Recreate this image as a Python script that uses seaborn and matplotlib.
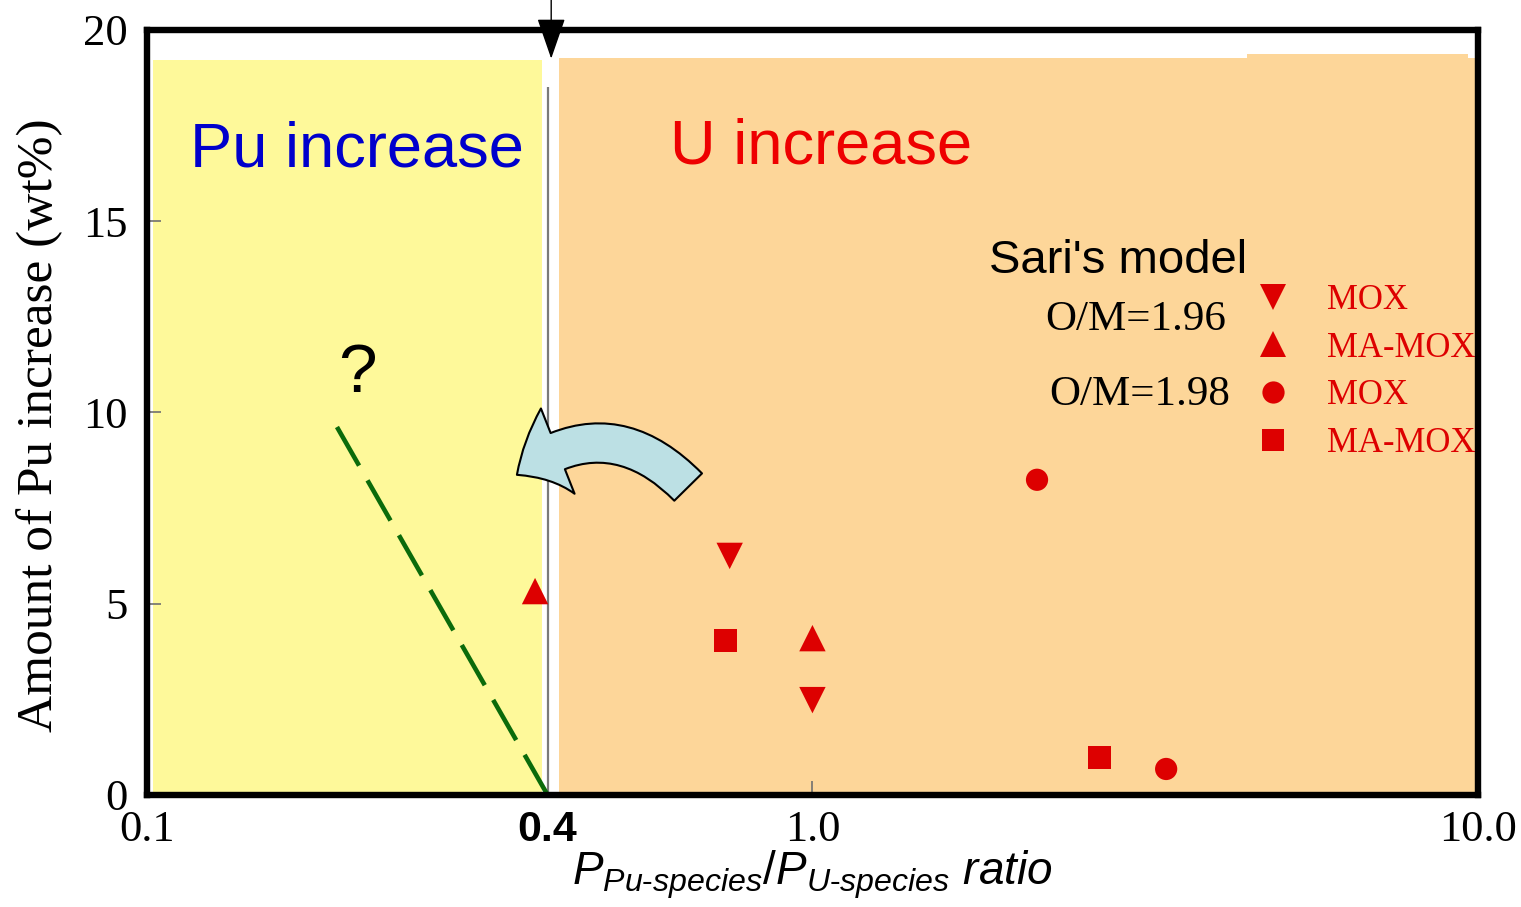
import matplotlib
matplotlib.use("Agg")
import matplotlib.pyplot as plt
import numpy as np
import pandas as pd
import seaborn as sns
from matplotlib.lines import Line2D
from matplotlib.ticker import NullLocator

# ---------------- data ----------------
mox196_ratio = [0.751, 1.0]
mox196_pu = [6.25, 2.48]
mamox196_ratio = [0.383, 1.0]
mamox196_pu = [5.33, 4.10]
mox198_ratio = [2.175, 3.40]
mox198_pu = [8.24, 0.68]
mamox198_ratio = [0.741, 2.70]
mamox198_pu = [4.05, 0.99]

trend_ratio = [0.40, 0.193]
trend_pu = [0.0, 9.62]

threshold = 0.4
xtick_values = [0.1, 0.4, 1.0, 10.0]
xtick_labels = ["0.1", "0.4", "1.0", "10.0"]
ytick_values = [0, 5, 10, 15, 20]
legend_labels = ["MOX", "MA-MOX", "MOX", "MA-MOX"]
group_names = ["O/M=1.96 MOX", "O/M=1.96 MA-MOX", "O/M=1.98 MOX", "O/M=1.98 MA-MOX"]

# shaded regions: (x start, x end, top)
pu_region = (0.1021, 0.3923, 19.22)
u_region = (0.4163, 10.3, 19.27)
u_region_tab = (4.49, 9.66, 19.37)

# ---------------- styling ----------------
RED = "#DD0000"
YELLOW = "#FEF99A"
PEACH = "#FDD699"
markers = dict(zip(group_names, ["v", "^", "o", "s"]))
sizes = dict(zip(group_names, [361, 361, 256, 272]))

sns.set_theme(style="white")
plt.rcParams["font.family"] = ["Liberation Serif", "DejaVu Serif"]
plt.rcParams["mathtext.fontset"] = "custom"
plt.rcParams["mathtext.it"] = "Liberation Sans:italic"
plt.rcParams["mathtext.rm"] = "Liberation Sans"
plt.rcParams["mathtext.sf"] = "Liberation Sans"

fig = plt.figure(figsize=(15.21, 9.07), dpi=100)
fig.patch.set_facecolor("white")
ax = fig.add_axes([0.0966, 0.1235, 0.8751, 0.8435])
ax.set_facecolor("white")
ax.set_xscale("log")
ax.set_xlim(0.1, 10)
ax.set_ylim(0, 20)

# background regions
ax.axvspan(pu_region[0], pu_region[1], ymin=0, ymax=pu_region[2] / 20, color=YELLOW, lw=0, zorder=0)
ax.axvspan(u_region[0], u_region[1], ymin=0, ymax=u_region[2] / 20, color=PEACH, lw=0, zorder=0)
ax.axvspan(u_region_tab[0], u_region_tab[1], ymin=0, ymax=u_region_tab[2] / 20, color=PEACH, lw=0, zorder=0)

# threshold line
ax.vlines(threshold, 0, 18.5, color="#7a7a7a", lw=1.6, zorder=1)

# green dashed trend
trend_line, = ax.plot(trend_ratio, trend_pu, color="#0B6B0B", lw=3.3, zorder=2)
trend_line.set_dashes((10.1, 3.7))

# data points
df = pd.DataFrame({
    "ratio": mox196_ratio + mamox196_ratio + mox198_ratio + mamox198_ratio,
    "pu": mox196_pu + mamox196_pu + mox198_pu + mamox198_pu,
    "group": [group_names[0]] * len(mox196_ratio) + [group_names[1]] * len(mamox196_ratio)
             + [group_names[2]] * len(mox198_ratio) + [group_names[3]] * len(mamox198_ratio),
})
sns.scatterplot(data=df, x="ratio", y="pu", style="group", markers=markers,
                size="group", sizes=sizes, color=RED, linewidth=0,
                legend=False, ax=ax, zorder=3)

# curved arrow
ax.annotate("", xy=(0.3597, 8.37), xytext=(0.6505, 8.05),
            arrowprops=dict(arrowstyle="simple,head_length=3.4,head_width=6.6,tail_width=2.8",
                            connectionstyle="arc3,rad=0.44", fc="#BCE0E4", ec="black",
                            lw=1.5, shrinkA=0, shrinkB=0, mutation_scale=10), zorder=4)

# top arrow
ax.annotate("", xy=(0.405, 19.25), xytext=(0.405, 21.3),
            arrowprops=dict(arrowstyle="-|>,head_length=1.3,head_width=0.45", color="black",
                            lw=1.0, shrinkA=0, shrinkB=0, mutation_scale=20),
            annotation_clip=False, zorder=5)

# texts
ax.text(0.0323, 0.822, "Pu increase", transform=ax.transAxes, color="#0000CC",
        fontsize=45.5, family="Liberation Sans", ha="left", va="baseline")
ax.text(0.393, 0.825, "U increase", transform=ax.transAxes, color="#EE0000",
        fontsize=45.5, family="Liberation Sans", ha="left", va="baseline")
ax.text(0.158, 0.527, "?", transform=ax.transAxes, color="black",
        fontsize=50, family="Liberation Sans", ha="center", va="baseline")
ax.text(0.633, 0.682, "Sari's model", transform=ax.transAxes, color="black",
        fontsize=34, family="Liberation Sans", ha="left", va="baseline")
ax.text(0.811, 0.608, "O/M=1.96", transform=ax.transAxes, color="black",
        fontsize=31, ha="right", va="baseline")
ax.text(0.8137, 0.51, "O/M=1.98", transform=ax.transAxes, color="black",
        fontsize=31, ha="right", va="baseline")

# legend
handles = [Line2D([], [], ls="", marker=markers[g], color=RED, mew=0,
                  ms=np.sqrt(sizes[g])) for g in group_names]
ax.legend(handles, legend_labels, loc="center left", bbox_to_anchor=(0.830, 0.553),
          frameon=False, fontsize=25, labelcolor=RED, handlelength=1.2,
          handletextpad=0.96, labelspacing=0.42, borderpad=0, borderaxespad=0)

# axes
ax.set_xticks(xtick_values)
ax.set_xticklabels(xtick_labels)
ax.xaxis.set_minor_locator(NullLocator())
ax.set_yticks(ytick_values)
ax.tick_params(axis="both", direction="in", length=10, width=1.2, color="#707070",
               labelsize=32, labelcolor="black", bottom=True, left=True)
ax.tick_params(axis="x", pad=11)
ax.tick_params(axis="y", pad=14)
lab04 = ax.get_xticklabels()[1]
lab04.set_fontfamily("Liberation Sans")
lab04.set_fontweight("bold")
lab04.set_fontsize(31)

ax.set_ylabel("Amount of Pu increase (wt%)", fontsize=37, color="black")
ax.yaxis.set_label_coords(-0.063, 0.484)
ax.set_xlabel(r"$P_{Pu\text{-}species}/P_{U\text{-}species}\ ratio$", fontsize=33,
              labelpad=-1, color="black")

for s in ax.spines.values():
    s.set_linewidth(4.6)
    s.set_color("black")
    s.set_zorder(6)

fig.savefig("out.png", dpi=100, facecolor="white")
